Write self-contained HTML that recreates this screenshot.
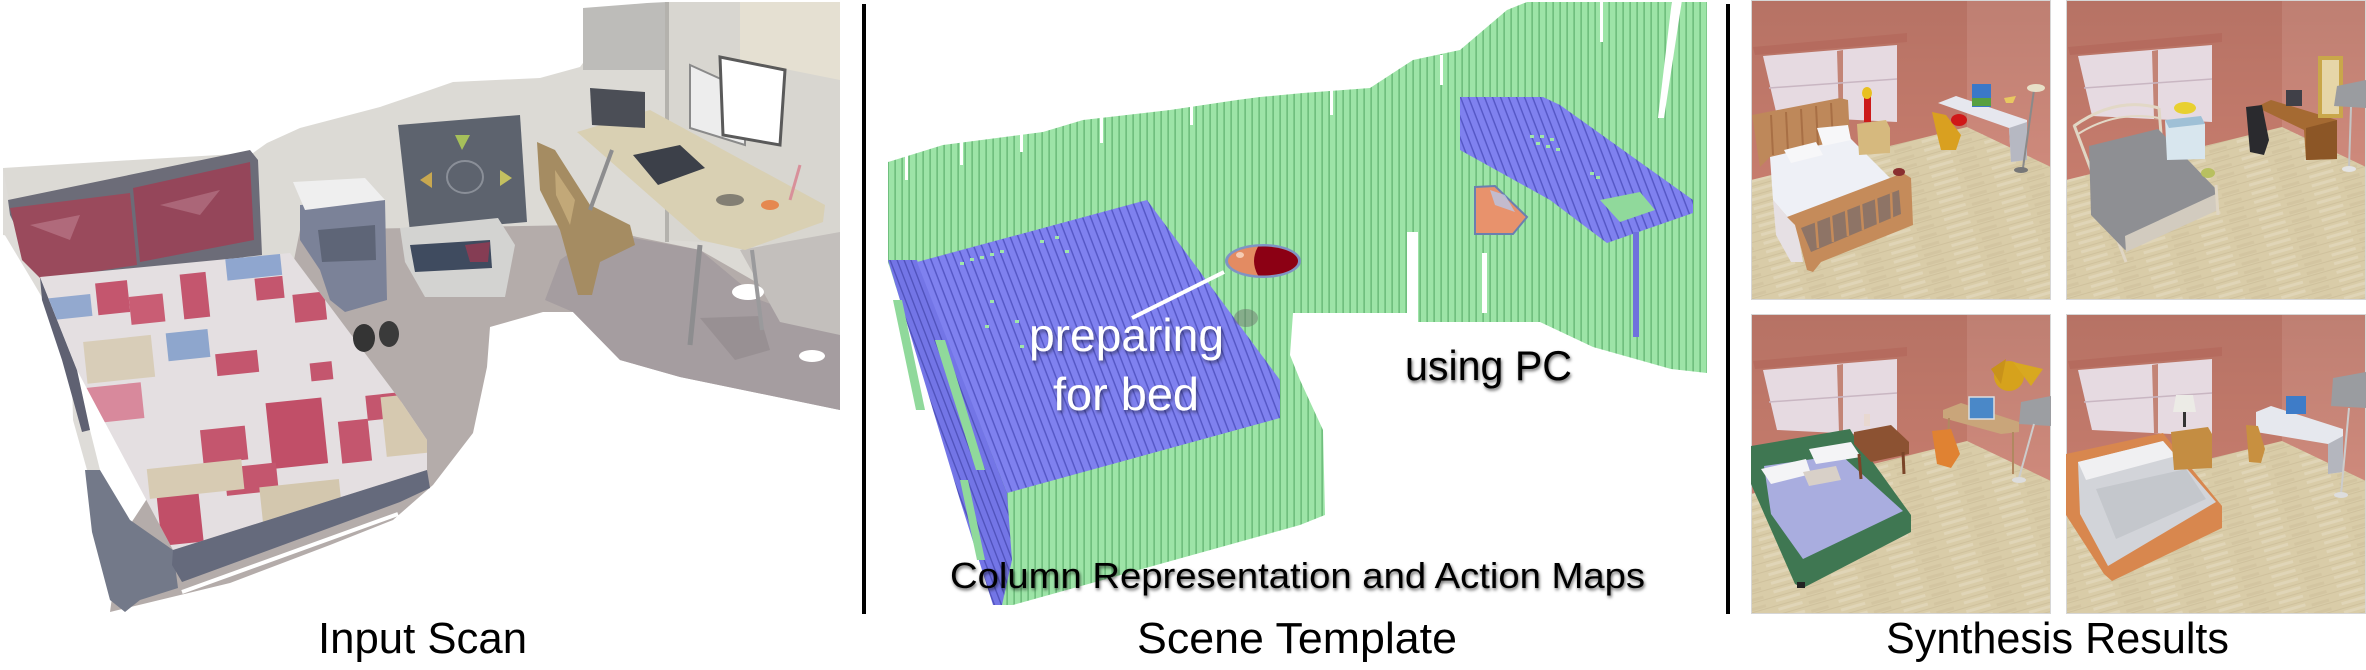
<!DOCTYPE html>
<html><head><meta charset="utf-8"><style>
html,body{margin:0;padding:0;background:#fff;width:2366px;height:670px;overflow:hidden}
svg{display:block}
text{font-family:"Liberation Sans",Arial,sans-serif}
</style></head><body>
<svg xmlns="http://www.w3.org/2000/svg" xmlns:xlink="http://www.w3.org/1999/xlink" width="2366" height="670" viewBox="0 0 2366 670">
<defs>
<pattern id="gs" width="7" height="7" patternUnits="userSpaceOnUse"><rect width="7" height="7" fill="#9de4a7"/><rect x="5.3" width="1.7" height="7" fill="#70bf7e"/></pattern>
<pattern id="bs" width="8" height="8" patternUnits="userSpaceOnUse" patternTransform="skewX(21)"><rect width="8" height="8" fill="#7f81ef"/><rect x="6.4" width="1.6" height="8" fill="#5658c6"/></pattern>
<pattern id="bs2" width="7" height="7" patternUnits="userSpaceOnUse" patternTransform="skewX(21)"><rect width="7" height="7" fill="#7375e6"/><rect x="5.5" width="1.5" height="7" fill="#5153bd"/></pattern>
<pattern id="wood" width="60" height="9" patternUnits="userSpaceOnUse" patternTransform="rotate(-16)"><rect width="60" height="9" fill="#d9cca8"/><rect y="8" width="60" height="1" fill="#cfc19d"/><rect x="5" y="2" width="25" height="3" fill="#e0d5b7"/><rect x="36" y="4" width="18" height="3" fill="#d3c5a1"/></pattern>
<linearGradient id="wallg" x1="0" y1="0" x2="0" y2="1"><stop offset="0" stop-color="#000" stop-opacity="0.08"/><stop offset="1" stop-color="#000" stop-opacity="0"/></linearGradient>
<filter id="sh" x="-10%" y="-30%" width="120%" height="160%"><feDropShadow dx="1.5" dy="2.5" stdDeviation="1.8" flood-color="#000" flood-opacity="0.45"/></filter>
<filter id="sh2" x="-10%" y="-30%" width="120%" height="160%"><feDropShadow dx="1" dy="2" stdDeviation="1.5" flood-color="#000" flood-opacity="0.6"/></filter>
<clipPath id="quilt"><polygon points="40,277 290,253 400,400 427,440 427,470 173,550 77,370"/></clipPath>
<g id="room">
 <rect width="300" height="300" fill="url(#wood)"/>
 <polygon points="0,0 216,0 216,127 0,180" fill="#c67c6d"/>
 <polygon points="216,0 300,0 300,167 216,127" fill="#cf8a7c"/>
 <polygon points="0,0 300,0 300,167 216,127 0,180" fill="url(#wallg)"/>
 <polygon points="12,56 146,45 146,122 26,116" fill="#e6dae1"/>
 <polygon points="86,51 92,50 92,119 88,119" fill="#c38476"/>
 <line x1="18" y1="88" x2="146" y2="79" stroke="#c9b6c2" stroke-width="1.5"/>
 <polygon points="2,47 156,33 156,42 4,55" fill="#b56b5e"/>
 <rect x="0.5" y="0.5" width="299" height="299" fill="none" stroke="#d6d6d6" stroke-width="1"/>
</g>
</defs>

<!-- ============ PANEL 1: INPUT SCAN ============ -->
<g>
 <polygon points="3,168 133,160 253,153 267,143 300,128 380,107 430,90 453,82 540,78 580,67 600,40 647,3 840,2 840,340 700,260 580,230 300,240 290,280 3,235" fill="#dcdad5"/>
 <polygon points="583,8 647,3 667,2 667,70 583,70" fill="#bdbcb9"/>
 <polygon points="667,2 840,2 840,250 667,240" fill="#d8d6d0"/>
 <polygon points="740,2 840,2 840,80 740,60" fill="#e5e0d2"/>
 <rect x="665" y="2" width="4" height="240" fill="#b4b2ad"/>
 <polygon points="110,612 230,583 330,545 393,520 433,485 473,433 487,367 490,327 543,312 573,312 620,360 680,377 840,410 840,330 700,250 580,225 300,230 290,280 120,540" fill="#b4acaa"/>
 <polygon points="573,312 620,360 680,377 840,410 840,330 760,300 700,250 600,232 560,260 545,300" fill="#a59da0"/>
 <polygon points="740,250 840,232 840,335 780,322" fill="#c3bfbc"/>
 <ellipse cx="748" cy="292" rx="16" ry="8" fill="#fff"/>
 <ellipse cx="812" cy="356" rx="13" ry="6" fill="#fff"/>
 <polygon points="700,318 760,316 770,350 735,360" fill="#8f878b" opacity="0.6"/>
 <!-- left side panel -->
 <polygon points="3,168 10,207 40,277 77,370 90,430 100,470 87,470 73,420 72,380 63,333 33,282 3,232" fill="#dedcd8"/>
 <polygon points="40,277 77,370 90,430 82,432 62,360 42,300" fill="#5f6172"/>
 <polygon points="85,470 100,470 130,520 173,550 178,588 140,600 125,612 110,600 92,532" fill="#737989"/>
 <!-- headboard & pillows -->
 <polygon points="8,200 250,150 258,160 262,255 245,257 60,290 40,277 10,215" fill="#6c6c78"/>
 <polygon points="10,208 130,193 137,265 42,280 22,260" fill="#9a4a5c"/>
 <polygon points="133,188 250,162 254,240 140,262" fill="#95465a"/>
 <polygon points="30,225 80,215 70,240" fill="#c08090" opacity="0.6"/>
 <polygon points="160,205 220,190 200,215" fill="#bb7c8c" opacity="0.6"/>
 <!-- quilt -->
 <polygon points="40,277 290,253 400,400 427,440 427,470 173,550 77,370" fill="#e4dfe1"/>
 <g clip-path="url(#quilt)">
  <g transform="rotate(-6 230 400)">
   <rect x="108" y="270" width="32" height="32" fill="#c4566e"/>
   <rect x="140" y="287" width="34" height="28" fill="#c95d74"/>
   <rect x="193" y="270" width="26" height="45" fill="#c4566e"/>
   <rect x="267" y="282" width="28" height="22" fill="#c4566e"/>
   <rect x="303" y="302" width="32" height="28" fill="#c4566e"/>
   <rect x="220" y="353" width="42" height="22" fill="#c4566e"/>
   <rect x="313" y="372" width="22" height="18" fill="#c4566e"/>
   <rect x="85" y="373" width="58" height="36" fill="#d8899c"/>
   <rect x="265" y="407" width="56" height="66" fill="#c14f68"/>
   <rect x="335" y="433" width="30" height="42" fill="#c4566e"/>
   <rect x="197" y="427" width="45" height="34" fill="#c4566e"/>
   <rect x="147" y="483" width="42" height="55" fill="#c14f68"/>
   <rect x="217" y="467" width="52" height="28" fill="#c4566e"/>
   <rect x="365" y="410" width="35" height="25" fill="#c4566e"/>
   <rect x="60" y="280" width="42" height="22" fill="#93a9cf"/>
   <rect x="240" y="257" width="55" height="24" fill="#8fa6cf"/>
   <rect x="173" y="327" width="42" height="28" fill="#8ea6cd"/>
   <rect x="90" y="327" width="68" height="42" fill="#d8cdb8"/>
   <rect x="140" y="460" width="95" height="30" fill="#d7cbb3"/>
   <rect x="380" y="413" width="50" height="60" fill="#d6c9b0"/>
   <rect x="250" y="490" width="80" height="40" fill="#d3c7ae"/>
  </g>
 </g>
 <polygon points="173,550 427,470 430,488 400,502 182,582 172,565" fill="#656a7c"/>
 <polyline points="182,592 398,514" stroke="#ffffff" stroke-width="4" fill="none"/>
 <!-- nightstand -->
 <polygon points="300,205 385,200 387,300 345,312 330,300 320,270 300,240" fill="#7b8298"/>
 <polygon points="293,182 365,178 385,200 305,210" fill="#efefef"/>
 <polygon points="318,230 375,225 376,260 322,262" fill="#5e6577"/>
 <!-- dance mat -->
 <polygon points="398,125 520,115 527,222 410,232" fill="#5d636e"/>
 <polygon points="455,135 470,135 462,150" fill="#a6c05a"/>
 <polygon points="500,170 512,178 500,186" fill="#c4c060"/>
 <polygon points="420,180 432,172 432,188" fill="#c8a850"/>
 <ellipse cx="465" cy="177" rx="18" ry="16" fill="none" stroke="#8a8f98" stroke-width="2"/>
 <!-- basket -->
 <polygon points="400,228 498,218 515,245 505,297 425,297 405,262" fill="#d3d3d1"/>
 <polygon points="410,245 490,240 492,268 415,272" fill="#3f4b5f"/>
 <polygon points="465,245 490,242 488,262 470,262" fill="#a43850" opacity="0.7"/>
 <!-- shoes -->
 <ellipse cx="364" cy="338" rx="11" ry="14" fill="#343434"/>
 <ellipse cx="389" cy="334" rx="10" ry="13" fill="#3a3a3a"/>
 <!-- chair -->
 <polygon points="537,142 555,150 590,205 630,225 635,245 600,262 592,295 578,295 560,230 540,190" fill="#a58c62"/>
 <polygon points="555,170 575,200 570,225 556,195" fill="#c2a878"/>
 <!-- desk -->
 <polygon points="577,132 650,110 825,205 823,222 745,250 700,240" fill="#d9d0b3"/>
 <line x1="700" y1="245" x2="690" y2="345" stroke="#8d8d8f" stroke-width="5"/>
 <line x1="612" y1="150" x2="590" y2="210" stroke="#8d8d8f" stroke-width="4"/>
 <line x1="752" y1="250" x2="762" y2="330" stroke="#9a9a9c" stroke-width="4"/>
 <polygon points="590,88 645,92 645,128 592,125" fill="#4b4e56"/>
 <polygon points="690,65 745,90 745,145 690,128" fill="#ededed" stroke="#8a8a8a" stroke-width="2"/>
 <polygon points="720,57 785,70 780,145 723,135" fill="#ffffff" stroke="#5a5a5a" stroke-width="3"/>
 <polygon points="633,155 680,145 705,168 658,185" fill="#3c4049"/>
 <ellipse cx="730" cy="200" rx="14" ry="6" fill="#4a4a4a" opacity="0.6"/>
 <ellipse cx="770" cy="205" rx="9" ry="5" fill="#e58850"/>
 <line x1="800" y1="165" x2="790" y2="200" stroke="#d8909a" stroke-width="3"/>
</g>

<!-- dividers -->
<rect x="862" y="4" width="4" height="610" fill="#000"/>
<rect x="1726" y="4" width="4" height="610" fill="#000"/>

<!-- ============ PANEL 2: SCENE TEMPLATE ============ -->
<g>
 <polygon points="888,162 943,145 1043,132 1083,120 1170,110 1237,100 1260,97 1303,93 1370,88 1413,60 1460,50 1480,33 1507,10 1527,2 1707,2 1707,373 1671,369 1593,347 1540,322 1418,322 1418,232 1407,232 1407,313 1293,313 1290,355 1300,380 1323,430 1325,515 1300,525 1013,605 997,605 888,262" fill="url(#gs)"/>
 <g fill="#fff">
  <rect x="905" y="150" width="3" height="30"/><rect x="960" y="140" width="3" height="25"/><rect x="1020" y="130" width="3" height="22"/>
  <rect x="1100" y="115" width="3" height="28"/><rect x="1190" y="105" width="3" height="20"/><rect x="1330" y="90" width="3" height="25"/>
  <rect x="1440" y="55" width="3" height="30"/><rect x="1600" y="2" width="3" height="40"/>
 </g>
 <polygon points="1672,0 1682,0 1664,118 1658,118" fill="#fff"/>
 <rect x="1482" y="253" width="5" height="60" fill="#fff"/>
 <!-- bed -->
 <polygon points="888,260 917,260 1007,493 1012,560 1002,605 993,605 960,500" fill="url(#bs2)"/>
 <polygon points="917,262 1147,200 1280,380 1280,418 1007,493" fill="url(#bs)"/>
 <polygon points="893,300 902,300 925,410 916,410" fill="#90d99b"/>
 <polygon points="935,340 945,340 985,470 976,470" fill="#90d99b"/>
 <polygon points="960,480 968,480 985,560 977,560" fill="#90d99b"/>
 <g fill="#9fe6a9">
  <rect x="960" y="262" width="4" height="3"/><rect x="970" y="258" width="4" height="3"/><rect x="980" y="256" width="4" height="3"/><rect x="990" y="253" width="4" height="3"/><rect x="1000" y="250" width="4" height="3"/>
  <rect x="1040" y="240" width="4" height="3"/><rect x="1055" y="236" width="4" height="3"/><rect x="1065" y="250" width="4" height="3"/>
  <rect x="990" y="300" width="4" height="3"/><rect x="985" y="325" width="4" height="3"/><rect x="1015" y="320" width="4" height="3"/><rect x="1020" y="345" width="4" height="3"/>
 </g>
 <!-- desk top -->
 <polygon points="1460,97 1543,97 1560,105 1693,200 1693,213 1607,243 1550,200 1460,150" fill="url(#bs)"/>
 <rect x="1633" y="232" width="6" height="105" fill="#6f71dd"/>
 <g fill="#9fe6a9">
  <rect x="1530" y="135" width="4" height="3"/><rect x="1540" y="135" width="4" height="3"/><rect x="1550" y="138" width="4" height="3"/><rect x="1536" y="142" width="4" height="3"/><rect x="1546" y="145" width="4" height="3"/><rect x="1556" y="148" width="4" height="3"/>
  <rect x="1590" y="172" width="4" height="3"/><rect x="1596" y="176" width="4" height="3"/>
 </g>
 <polygon points="1600,200 1640,192 1655,210 1620,222" fill="#90d99b"/>
 <!-- small table shadow -->
 <ellipse cx="1246" cy="318" rx="12" ry="9" fill="#6a6a6a" opacity="0.45"/>
 <!-- action map ellipse -->
 <ellipse cx="1263" cy="261" rx="38" ry="17" fill="#7f93c4"/>
 <ellipse cx="1263" cy="261" rx="35" ry="14.5" fill="#e38b62"/>
 <path d="M1258,246.65 A35,14.5 0 1 1 1258,275.35 Q1250,261 1258,246.65 Z" fill="#8c0014"/>
 <ellipse cx="1240" cy="255" rx="4" ry="3" fill="#f6ccb4"/>
 <!-- PC blob -->
 <polygon points="1475,187 1495,186 1527,217 1513,234 1475,234" fill="#e8926c" stroke="#6a7fb0" stroke-width="2"/>
 <polygon points="1490,190 1505,195 1515,212 1495,205" fill="#b9c6e6" opacity="0.8"/>
 <!-- line -->
 <line x1="1224" y1="272" x2="1132" y2="318" stroke="#fff" stroke-width="4"/>
 <!-- texts -->
 <text x="1029" y="351" font-size="46" fill="#fff" textLength="195" lengthAdjust="spacingAndGlyphs" filter="url(#sh)">preparing</text>
 <text x="1053" y="410" font-size="46" fill="#fff" textLength="146" lengthAdjust="spacingAndGlyphs" filter="url(#sh)">for bed</text>
 <text x="1405" y="380" font-size="42" fill="#000" textLength="167" lengthAdjust="spacingAndGlyphs" filter="url(#sh2)">using PC</text>
 <text x="950" y="588" font-size="36" fill="#000" textLength="695" lengthAdjust="spacingAndGlyphs" filter="url(#sh2)">Column Representation and Action Maps</text>
</g>

<!-- ============ PANEL 3: SYNTHESIS RESULTS ============ -->
<!-- TL -->
<g transform="translate(1751,0)">
 <use xlink:href="#room"/>
 <polygon points="1,115 89,98 97,100 99,140 19,157 9,167" fill="#be885a"/>
 <g stroke="#a86f45" stroke-width="2"><line x1="20" y1="115" x2="22" y2="155"/><line x1="35" y1="112" x2="37" y2="152"/><line x1="50" y1="109" x2="52" y2="148"/><line x1="65" y1="106" x2="67" y2="145"/><line x1="80" y1="103" x2="82" y2="142"/></g>
 <polygon points="19,157 99,138 139,178 150,185 46,228 22,200" fill="#eef0f6"/>
 <polygon points="33,150 65,142 72,155 40,163" fill="#f7f7f9"/>
 <polygon points="66,128 97,125 100,140 72,146" fill="#f7f7f9"/>
 <polygon points="22,200 46,228 52,262 40,262 25,235" fill="#e6e0e4"/>
 <polygon points="36,217 152,173 160,178 162,225 70,262 62,272 56,270 44,225" fill="#c58b5a"/>
 <polygon points="50,228 148,190 150,214 60,252" fill="#8e7466"/>
 <g stroke="#c58b5a" stroke-width="2.5"><line x1="65" y1="222" x2="67" y2="248"/><line x1="80" y1="216" x2="82" y2="242"/><line x1="95" y1="210" x2="97" y2="236"/><line x1="110" y1="204" x2="112" y2="230"/><line x1="125" y1="198" x2="127" y2="224"/><line x1="140" y1="193" x2="141" y2="218"/></g>
 <polygon points="106,124 135,120 139,128 139,153 108,155" fill="#d6b97e"/>
 <rect x="113" y="96" width="7" height="26" fill="#cc1a1a"/>
 <ellipse cx="116" cy="93" rx="5" ry="6" fill="#e8c020"/>
 <polygon points="187,103 205,96 276,120 276,160 260,162 258,128" fill="#e6e7ee"/>
 <polygon points="258,128 276,122 276,160 260,162" fill="#b6b8c2"/>
 <rect x="221" y="84" width="19" height="23" fill="#3b78c8"/>
 <rect x="221" y="98" width="19" height="8" fill="#58a040"/>
 <polygon points="181,112 195,115 210,135 205,150 190,150 185,130" fill="#d9a020"/>
 <ellipse cx="208" cy="120" rx="8" ry="6" fill="#d01818"/>
 <polygon points="253,98 265,96 262,103 255,103" fill="#e8c860"/>
 <line x1="283" y1="90" x2="272" y2="168" stroke="#8a8a8a" stroke-width="2"/>
 <ellipse cx="285" cy="88" rx="9" ry="4" fill="#e8e0c8"/>
 <ellipse cx="270" cy="170" rx="7" ry="3" fill="#777"/>
 <ellipse cx="148" cy="172" rx="6" ry="4" fill="#8a3030"/>
</g>
<!-- TR -->
<g transform="translate(2066,0)">
 <use xlink:href="#room"/>
 <path d="M8,126 Q50,96 93,108" stroke="#e2d8c6" stroke-width="3" fill="none"/>
 <path d="M12,134 Q50,110 93,118" stroke="#e2d8c6" stroke-width="2" fill="none"/>
 <line x1="8" y1="125" x2="60" y2="262" stroke="#e0d6c4" stroke-width="3"/>
 <line x1="93" y1="108" x2="97" y2="160" stroke="#e0d6c4" stroke-width="3"/>
 <polygon points="23,146 92,129 150,189 152,205 59,250 25,215" fill="#8e8f93"/>
 <polygon points="59,236 150,194 152,210 60,252" fill="#d2cbbf"/>
 <line x1="150" y1="185" x2="152" y2="215" stroke="#e0d6c4" stroke-width="3"/>
 <polygon points="99,120 135,116 139,124 139,159 101,160" fill="#d8e6ee"/>
 <polygon points="99,120 135,116 139,124 103,128" fill="#9fc0d6"/>
 <ellipse cx="119" cy="108" rx="11" ry="6" fill="#e8d030"/>
 <polygon points="190,107 205,100 271,120 271,159 240,160 238,130" fill="#a56a32"/>
 <polygon points="240,128 271,120 271,159 240,160" fill="#8c5626"/>
 <polygon points="180,107 196,105 203,140 198,155 184,152" fill="#2a2a2e"/>
 <rect x="220" y="90" width="16" height="16" fill="#404048"/>
 <rect x="252" y="56" width="25" height="62" fill="#c9a74a"/>
 <rect x="256" y="60" width="17" height="54" fill="#e6d6a8"/>
 <polygon points="271,86 300,80 300,108 268,106" fill="#9a9ca0"/>
 <line x1="285" y1="107" x2="283" y2="168" stroke="#c4c4c4" stroke-width="2"/>
 <ellipse cx="283" cy="169" rx="7" ry="3" fill="#e4e4e4"/>
 <ellipse cx="142" cy="173" rx="7" ry="5" fill="#b8c060"/>
</g>
<!-- BL -->
<g transform="translate(1751,314)">
 <use xlink:href="#room"/>
 <polygon points="0,132 99,115 103,122 160,201 160,218 52,274 44,270 0,170" fill="#3f7752"/>
 <polygon points="13,152 90,141 152,197 52,245 20,200" fill="#a9addf"/>
 <polygon points="10,155 55,145 60,160 20,170" fill="#f4f4f6"/>
 <polygon points="58,135 100,128 110,143 65,150" fill="#f4f4f6"/>
 <polygon points="52,158 85,152 90,166 58,172" fill="#d8d0c8"/>
 <polygon points="103,118 140,111 158,128 158,140 120,148 103,130" fill="#8c5232"/>
 <line x1="108" y1="140" x2="110" y2="165" stroke="#7a4428" stroke-width="3"/>
 <line x1="152" y1="138" x2="153" y2="160" stroke="#7a4428" stroke-width="3"/>
 <rect x="113" y="100" width="6" height="12" fill="#e8d8d0"/>
 <polygon points="192,96 210,89 268,108 268,118 250,120 192,104" fill="#c9a57a"/>
 <line x1="198" y1="104" x2="196" y2="150" stroke="#b08860" stroke-width="2"/>
 <line x1="262" y1="118" x2="262" y2="160" stroke="#b08860" stroke-width="2"/>
 <polygon points="181,117 200,115 209,140 200,154 186,150" fill="#e08232"/>
 <rect x="218" y="83" width="25" height="22" fill="#4a88c8" stroke="#ddd" stroke-width="1.5"/>
 <circle cx="258" cy="62" r="15" fill="#d6a21c"/>
 <polygon points="262,48 292,55 280,72" fill="#d8a820"/>
 <polygon points="240,55 255,45 250,70" fill="#c8921a"/>
 <polygon points="270,88 300,82 300,112 268,110" fill="#9c9ea2"/>
 <line x1="283" y1="110" x2="268" y2="164" stroke="#cccccc" stroke-width="2"/>
 <ellipse cx="268" cy="166" rx="7" ry="3" fill="#dddddd"/>
 <rect x="46" y="268" width="8" height="6" fill="#222"/>
</g>
<!-- BR -->
<g transform="translate(2066,314)">
 <use xlink:href="#room"/>
 <polygon points="0,140 97,119 100,123 156,192 156,214 46,267 38,260 0,201" fill="#d8874e"/>
 <polygon points="12,148 97,127 150,188 42,252 14,200" fill="#d2d4d9"/>
 <polygon points="12,148 97,127 110,142 20,166" fill="#f0f0f2"/>
 <polygon points="30,175 120,155 140,185 50,225" fill="#c4c7cc"/>
 <polygon points="105,118 142,113 146,120 146,154 108,156" fill="#c48d42"/>
 <polygon points="110,81 127,81 130,98 107,98" fill="#ecebe6"/>
 <rect x="117" y="98" width="3" height="15" fill="#333"/>
 <polygon points="190,98 205,92 277,115 277,158 262,160 262,130 190,118" fill="#e6e8ee"/>
 <polygon points="262,130 277,122 277,158 262,160" fill="#b4b6be"/>
 <rect x="220" y="82" width="20" height="18" fill="#3e7cc8"/>
 <polygon points="180,111 192,112 199,135 195,149 183,148" fill="#c89040"/>
 <polygon points="267,64 300,58 300,94 265,92" fill="#9a9ca0"/>
 <line x1="283" y1="94" x2="275" y2="180" stroke="#cccccc" stroke-width="2"/>
 <ellipse cx="275" cy="181" rx="7" ry="3" fill="#dddddd"/>
</g>

<!-- bottom labels -->
<text x="318" y="653" font-size="44" fill="#000" textLength="209" lengthAdjust="spacingAndGlyphs">Input Scan</text>
<text x="1137" y="653" font-size="44" fill="#000" textLength="320" lengthAdjust="spacingAndGlyphs">Scene Template</text>
<text x="1886" y="653" font-size="44" fill="#000" textLength="343" lengthAdjust="spacingAndGlyphs">Synthesis Results</text>
</svg>
</body></html>
